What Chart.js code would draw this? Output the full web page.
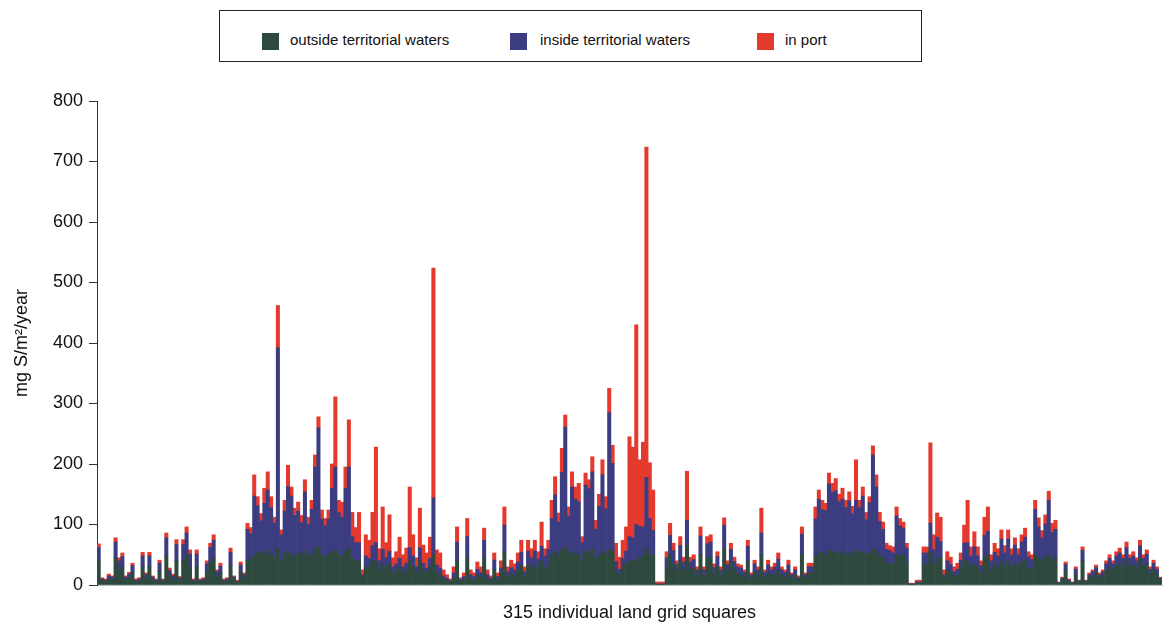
<!DOCTYPE html>
<html lang="en">
<head>
    <meta charset="UTF-8">
    <title>Sulphur deposition per land grid square</title>
    <style>
        body{ margin:0; background:#fff; font-family:"Liberation Sans", Arial, sans-serif; }
        #wrap{ position:relative; width:1165px; height:628px; }
        #legendBox{
            position:absolute; left:219px; top:10px; width:701px; height:50px;
            border:1px solid #222; background:#fff;
        }
        .key{ position:absolute; top:33px; width:17px; height:17px; }
        .lbl{ position:absolute; top:31px; font-size:15px; color:#111; }
    </style>
</head>
<body>
<div id="wrap">
    <canvas id="chart" width="1165" height="628"></canvas>
    <div id="legendBox"></div>
    <div class="key" style="left:262px;background:#2e4a3f"></div>
    <div class="lbl" style="left:290px">outside territorial waters</div>
    <div class="key" style="left:510px;background:#3c3d80"></div>
    <div class="lbl" style="left:540px">inside territorial waters</div>
    <div class="key" style="left:757px;background:#e43a2e"></div>
    <div class="lbl" style="left:785px">in port</div>
</div>

<script src="https://cdn.jsdelivr.net/npm/chart.js"></script>
<script>
    // 315 land grid squares, values in mg S/m2/year
    const squares = Array.from({length: 315}, (_, i) => String(i + 1));

    const outsideWaters = [
        40,7,6,10,9,45,25,30,9,12,20,6,7,30,11,
        30,9,6,22,6,48,15,10,40,8,40,50,30,6,30,
        6,7,22,37,44,14,20,6,7,32,9,5,21,11,40,
        45,48,55,52,50,58,50,45,60,40,52,55,50,48,53,
        52,56,48,50,60,62,50,47,52,55,58,50,48,55,60,
        45,40,40,12,30,30,40,40,25,35,30,35,20,25,30,
        20,25,40,30,20,40,25,20,30,50,20,18,10,7,5,
        12,40,6,9,45,10,9,16,12,44,10,7,25,9,18,
        55,14,18,15,24,32,14,34,28,34,26,40,28,34,50,
        55,48,58,62,50,55,52,50,40,57,53,60,45,50,56,
        52,58,55,25,18,30,35,40,40,40,45,50,60,50,50,
        1,1,1,28,50,35,22,40,25,65,25,28,16,50,16,
        45,45,19,30,16,60,22,38,25,19,18,14,40,11,22,
        16,50,13,20,16,18,25,16,13,20,11,16,8,50,11,
        20,20,48,52,55,50,58,54,56,52,55,50,53,49,57,
        54,56,50,52,60,55,48,46,35,35,35,50,48,50,35,
        1,1,3,3,35,35,55,35,45,45,12,25,22,15,16,
        28,40,40,30,35,30,20,45,50,25,34,30,40,32,40,
        30,36,30,38,40,28,26,50,45,40,45,50,40,45,3,
        8,24,6,3,18,5,40,5,12,15,20,12,15,25,30,
        25,33,36,30,42,30,33,28,44,30,35,18,25,18,8
    ];

    const insideWaters = [
        22,3,2,5,4,26,15,17,4,6,12,2,3,18,6,
        18,4,2,14,2,30,9,5,27,4,27,36,21,2,21,
        2,3,13,25,30,8,11,2,3,22,4,1,12,6,52,
        40,99,76,54,85,99,78,57,332,43,70,108,97,67,69,
        51,98,52,75,135,198,59,51,57,105,137,70,64,105,135,
        35,30,30,5,18,14,25,30,15,24,15,21,10,10,14,
        10,11,22,18,10,22,11,8,14,94,13,10,5,4,2,
        8,31,3,5,35,7,5,10,8,30,7,4,16,5,10,
        44,8,11,10,14,22,8,22,17,22,17,24,20,25,60,
        94,56,128,199,64,107,90,88,30,108,106,127,47,80,126,
        74,227,146,14,8,14,21,40,38,60,52,46,118,60,40,
        1,1,1,17,32,22,12,25,13,42,13,14,9,31,9,
        23,26,10,17,9,39,12,21,14,11,10,7,24,6,13,
        9,36,8,13,9,12,18,9,8,13,6,9,4,34,6,
        10,10,61,90,70,73,109,99,100,86,87,78,86,69,83,
        74,91,58,84,155,107,57,46,24,22,18,64,50,44,26,
        1,1,2,2,18,18,47,23,34,27,5,15,12,7,10,
        13,29,30,18,28,18,12,37,39,15,20,18,36,21,36,
        20,30,20,33,39,19,16,75,51,38,56,90,47,47,1,
        3,10,2,1,8,2,17,2,5,7,9,5,7,10,14,
        10,15,17,14,20,14,15,12,21,14,16,8,11,8,3
    ];

    const inPort = [
        6,2,2,3,2,7,5,6,2,3,4,2,2,6,3,
        6,2,2,5,2,8,4,3,8,2,8,10,7,2,7,
        2,2,5,7,9,3,5,2,2,7,2,2,5,3,10,
        10,35,15,12,25,30,18,10,70,8,18,35,15,12,15,
        12,20,12,15,20,18,15,12,15,40,116,20,25,35,78,
        40,25,50,8,35,30,55,158,20,70,25,60,15,20,35,
        20,25,100,35,15,65,30,25,35,380,25,25,10,6,3,
        10,25,3,6,30,8,6,12,10,20,8,4,12,6,12,
        30,8,12,10,15,20,8,18,15,18,12,40,12,15,30,
        30,15,40,20,15,25,20,30,10,20,15,25,15,20,25,
        20,40,30,30,20,30,40,165,150,330,110,140,546,92,67,
        3,3,3,10,20,12,6,15,8,81,8,8,5,15,5,
        12,12,6,8,5,12,6,10,7,5,5,4,10,3,6,
        5,41,4,8,5,6,10,5,4,8,3,5,3,12,3,
        6,6,20,15,15,12,18,15,20,12,18,12,15,12,67,
        12,15,12,10,15,20,15,12,10,8,10,15,12,10,8,
        1,1,3,3,10,10,133,25,40,40,8,15,12,8,10,
        12,30,70,15,25,15,8,30,40,10,15,12,15,12,15,
        10,12,10,12,15,8,8,15,15,12,15,15,15,15,1,
        2,4,2,1,4,1,6,1,3,3,4,3,3,5,6,
        5,7,8,6,9,6,7,5,9,6,7,4,5,4,2
    ];

    const yTicks = [0, 100, 200, 300, 400, 500, 600, 700, 800];

    const barStyle = { borderWidth: 0, barPercentage: 1.0, categoryPercentage: 1.0 };

    const ctx = document.getElementById('chart').getContext('2d');
    new Chart(ctx, {
        type: 'bar',
        data: {
            labels: squares,
            datasets: [
                Object.assign({ label: 'outside territorial waters', data: outsideWaters, backgroundColor: '#2e4a3f' }, barStyle),
                Object.assign({ label: 'inside territorial waters', data: insideWaters, backgroundColor: '#3c3d80' }, barStyle),
                Object.assign({ label: 'in port', data: inPort, backgroundColor: '#e43a2e' }, barStyle)
            ]
        },
        options: {
            responsive: false,
            animation: false,
            layout: { padding: { top: 101, right: 3, left: 0, bottom: 0 } },
            plugins: { legend: { display: false }, tooltip: { enabled: false } },
            scales: {
                x: {
                    stacked: true,
                    grid: { display: false, drawTicks: false },
                    border: { display: true, color: '#bbb' },
                    ticks: { display: false },
                    title: {
                        display: true,
                        text: '315 individual land grid squares',
                        color: '#111',
                        font: { family: 'Liberation Sans', size: 18 },
                        padding: { top: 14, bottom: 4 }
                    },
                    afterFit: s => { s.height = 43; }
                },
                y: {
                    stacked: true,
                    min: 0,
                    max: 800,
                    afterBuildTicks: s => { s.ticks = yTicks.map(v => ({ value: v })); },
                    grid: { drawOnChartArea: false, drawTicks: true, tickLength: 8, color: '#333' },
                    border: { display: true, color: '#333' },
                    ticks: {
                        color: '#111',
                        padding: 6,
                        font: { family: 'Liberation Sans', size: 18 }
                    },
                    title: {
                        display: true,
                        text: 'mg S/m²/year',
                        color: '#111',
                        font: { family: 'Liberation Sans', size: 18 },
                        padding: { top: 11, bottom: 0 }
                    },
                    afterFit: s => { s.width = 97; }
                }
            }
        }
    });
</script>
</body>
</html>
